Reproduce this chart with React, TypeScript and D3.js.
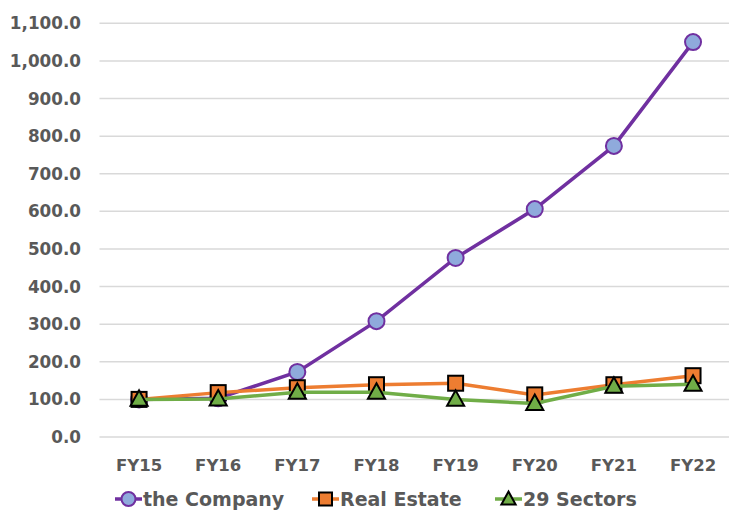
import * as d3 from "d3";

// ── Data ──────────────────────────────────────────────────────────────────────

const YEARS = ["FY15", "FY16", "FY17", "FY18", "FY19", "FY20", "FY21", "FY22"];
const COMPANY     = [100, 103, 173, 308, 476, 606, 774, 1050];
const REAL_ESTATE = [100, 118, 131, 139, 143, 112, 139, 163];
const SECTORS     = [100, 101, 119, 119, 100, 89, 135, 140];
const Y_TICKS = d3.range(0, 1101, 100);

// ── Tokens ────────────────────────────────────────────────────────────────────

const PURPLE = "#7030A0";
const BLUE   = "#8FAADC";
const ORANGE = "#ED7D31";
const GREEN  = "#70AD47";
const GRID   = "#D9D9D9";
const TEXT   = "#595959";
const FONT   = "Verdana, 'DejaVu Sans', sans-serif";

const W = 729, H = 512;
const m = { left: 99.5, right: -3.6, top: 23.3, bottom: 75 };

export default function App() {
  const x = d3.scaleBand().domain(YEARS).range([m.left, W - m.right]);
  const y = d3.scaleLinear().domain([0, 1100]).range([H - m.bottom, m.top]);
  const cx = (d: string) => x(d)! + x.bandwidth() / 2;

  const line = d3.line<number>()
    .x((_, i) => cx(YEARS[i]))
    .y(v => y(v));

  const sq = 15;
  const tri = (px: number, py: number, s = 9) =>
    `M${px},${py - s}L${px + s * 0.95},${py + s * 0.72}L${px - s * 0.95},${py + s * 0.72}Z`;

  const legendY = 499;

  return (
    <svg width={W} height={H} style={{ position: "absolute", left: 0, top: 0 }} fontFamily={FONT}>
      {/* Grid + y labels */}
      {Y_TICKS.map(t => (
        <g key={t}>
          <line x1={m.left} x2={W} y1={y(t)} y2={y(t)} stroke={GRID} strokeWidth={1.5} />
          <text x={81} y={y(t)} dy="0.36em" textAnchor="end" fontSize={16.8} fontWeight="bold" fill={TEXT}>
            {d3.format(",.1f")(t)}
          </text>
        </g>
      ))}

      {/* X labels */}
      {YEARS.map(d => (
        <text key={d} x={cx(d)} y={471} textAnchor="middle" fontSize={16.5} fontWeight="bold" fill={TEXT}>
          {d}
        </text>
      ))}

      {/* the Company */}
      <path d={line(COMPANY)!} fill="none" stroke={PURPLE} strokeWidth={3.5} />
      {COMPANY.map((v, i) => (
        <circle key={i} cx={cx(YEARS[i])} cy={y(v)} r={8} fill={BLUE} stroke={PURPLE} strokeWidth={2} />
      ))}

      {/* Real Estate */}
      <path d={line(REAL_ESTATE)!} fill="none" stroke={ORANGE} strokeWidth={3.5} />
      {REAL_ESTATE.map((v, i) => (
        <rect key={i} x={cx(YEARS[i]) - sq / 2} y={y(v) - sq / 2} width={sq} height={sq}
          fill={ORANGE} stroke="#000" strokeWidth={2} />
      ))}

      {/* 29 Sectors */}
      <path d={line(SECTORS)!} fill="none" stroke={GREEN} strokeWidth={3.5} />
      {SECTORS.map((v, i) => (
        <path key={i} d={tri(cx(YEARS[i]), y(v))} fill={GREEN} stroke="#000" strokeWidth={2} />
      ))}

      {/* Legend */}
      <g fontSize={19} fontWeight="bold" fill={TEXT}>
        <line x1={115} x2={142} y1={legendY} y2={legendY} stroke={PURPLE} strokeWidth={3.5} />
        <circle cx={128.5} cy={legendY} r={7} fill={BLUE} stroke={PURPLE} strokeWidth={2} />
        <text x={143} y={legendY} dy="0.36em">the Company</text>

        <line x1={312} x2={339} y1={legendY} y2={legendY} stroke={ORANGE} strokeWidth={3.5} />
        <rect x={325.5 - 6.5} y={legendY - 6.5} width={13} height={13} fill={ORANGE} stroke="#000" strokeWidth={2} />
        <text x={340} y={legendY} dy="0.36em">Real Estate</text>

        <line x1={495} x2={522} y1={legendY} y2={legendY} stroke={GREEN} strokeWidth={3.5} />
        <path d={tri(508.5, legendY, 7.5)} fill={GREEN} stroke="#000" strokeWidth={2} />
        <text x={523} y={legendY} dy="0.36em">29 Sectors</text>
      </g>
    </svg>
  );
}
